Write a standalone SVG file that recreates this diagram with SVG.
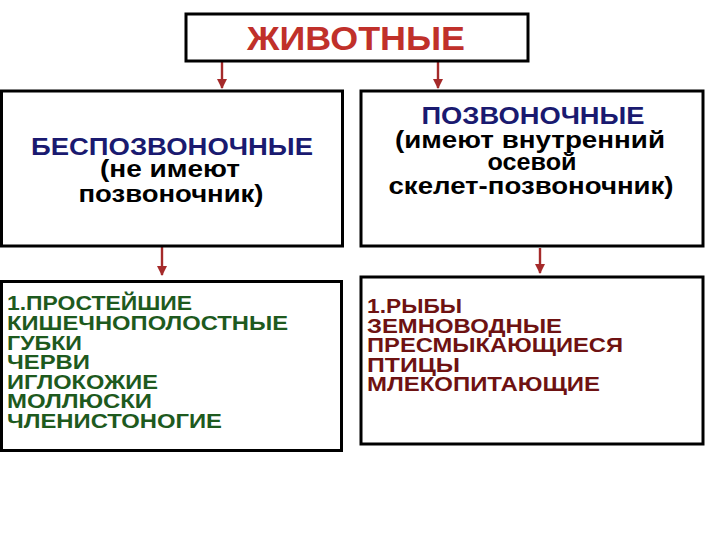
<svg xmlns="http://www.w3.org/2000/svg" width="720" height="540" viewBox="0 0 720 540">
<style>
.box{fill:#fff;stroke:#000;stroke-width:3}
.t{font-family:"Liberation Sans",Arial,sans-serif;font-weight:bold}
.title{font-size:34px;fill:#c0302a}
.head{font-size:24px;fill:#1a1a70}
.sub{font-size:23px;fill:#000}
.g{font-size:20px;fill:#1e5a1e}
.r{font-size:20px;fill:#6e1212}
.conn{stroke:#a52a2a;stroke-width:2.4;fill:none}
</style>
<defs>
<marker id="ah" viewBox="0 0 10 10" refX="9" refY="5" markerWidth="10" markerHeight="10" markerUnits="userSpaceOnUse" orient="auto">
<path d="M0,0 L10,5 L0,10 Z" fill="#a52a2a"/>
</marker>
</defs>
<rect width="720" height="540" fill="#fff"/>
<g id="connectors">
<line class="conn" x1="222" y1="62" x2="222" y2="88" marker-end="url(#ah)"/>
<line class="conn" x1="438" y1="62" x2="438" y2="88" marker-end="url(#ah)"/>
<line class="conn" x1="162" y1="247" x2="162" y2="275" marker-end="url(#ah)"/>
<line class="conn" x1="540" y1="248" x2="540" y2="273" marker-end="url(#ah)"/>
</g>
<g id="animals">
<rect class="box" x="186" y="14" width="342" height="47"/>
<text class="t title" x="356" y="50" text-anchor="middle" textLength="218" lengthAdjust="spacingAndGlyphs">ЖИВОТНЫЕ</text>
</g>
<g id="invertebrates">
<rect class="box" x="1.5" y="91" width="341" height="155"/>
<text class="t head" x="172" y="155" text-anchor="middle" textLength="282" lengthAdjust="spacingAndGlyphs">БЕСПОЗВОНОЧНЫЕ</text>
<text class="t sub" x="170" y="177" text-anchor="middle" textLength="140" lengthAdjust="spacingAndGlyphs">(не имеют</text>
<text class="t sub" x="171" y="202" text-anchor="middle" textLength="185" lengthAdjust="spacingAndGlyphs">позвоночник)</text>
</g>
<g id="vertebrates">
<rect class="box" x="361" y="91" width="342" height="155"/>
<text class="t head" x="533" y="124" text-anchor="middle" textLength="223" lengthAdjust="spacingAndGlyphs">ПОЗВОНОЧНЫЕ</text>
<text class="t sub" x="530" y="148" text-anchor="middle" textLength="270" lengthAdjust="spacingAndGlyphs">(имеют внутренний</text>
<text class="t sub" x="532" y="170" text-anchor="middle" textLength="89" lengthAdjust="spacingAndGlyphs">осевой</text>
<text class="t sub" x="531" y="194" text-anchor="middle" textLength="285" lengthAdjust="spacingAndGlyphs">скелет-позвоночник)</text>
</g>
<g id="invertebrate-list">
<rect class="box" x="1.5" y="281.5" width="340" height="169"/>
<text class="t g" x="7" y="310" textLength="185" lengthAdjust="spacingAndGlyphs">1.ПРОСТЕЙШИЕ</text>
<text class="t g" x="7" y="330" textLength="281" lengthAdjust="spacingAndGlyphs">КИШЕЧНОПОЛОСТНЫЕ</text>
<text class="t g" x="7" y="350" textLength="75" lengthAdjust="spacingAndGlyphs">ГУБКИ</text>
<text class="t g" x="7" y="369" textLength="83" lengthAdjust="spacingAndGlyphs">ЧЕРВИ</text>
<text class="t g" x="7" y="389" textLength="151" lengthAdjust="spacingAndGlyphs">ИГЛОКОЖИЕ</text>
<text class="t g" x="7" y="408" textLength="145" lengthAdjust="spacingAndGlyphs">МОЛЛЮСКИ</text>
<text class="t g" x="7" y="428" textLength="215" lengthAdjust="spacingAndGlyphs">ЧЛЕНИСТОНОГИЕ</text>
</g>
<g id="vertebrate-list">
<rect class="box" x="361" y="277" width="342" height="167"/>
<text class="t r" x="367" y="313" textLength="95" lengthAdjust="spacingAndGlyphs">1.РЫБЫ</text>
<text class="t r" x="367" y="333" textLength="195" lengthAdjust="spacingAndGlyphs">ЗЕМНОВОДНЫЕ</text>
<text class="t r" x="367" y="352" textLength="256" lengthAdjust="spacingAndGlyphs">ПРЕСМЫКАЮЩИЕСЯ</text>
<text class="t r" x="367" y="372" textLength="93" lengthAdjust="spacingAndGlyphs">ПТИЦЫ</text>
<text class="t r" x="367" y="391" textLength="233" lengthAdjust="spacingAndGlyphs">МЛЕКОПИТАЮЩИЕ</text>
</g>
</svg>
